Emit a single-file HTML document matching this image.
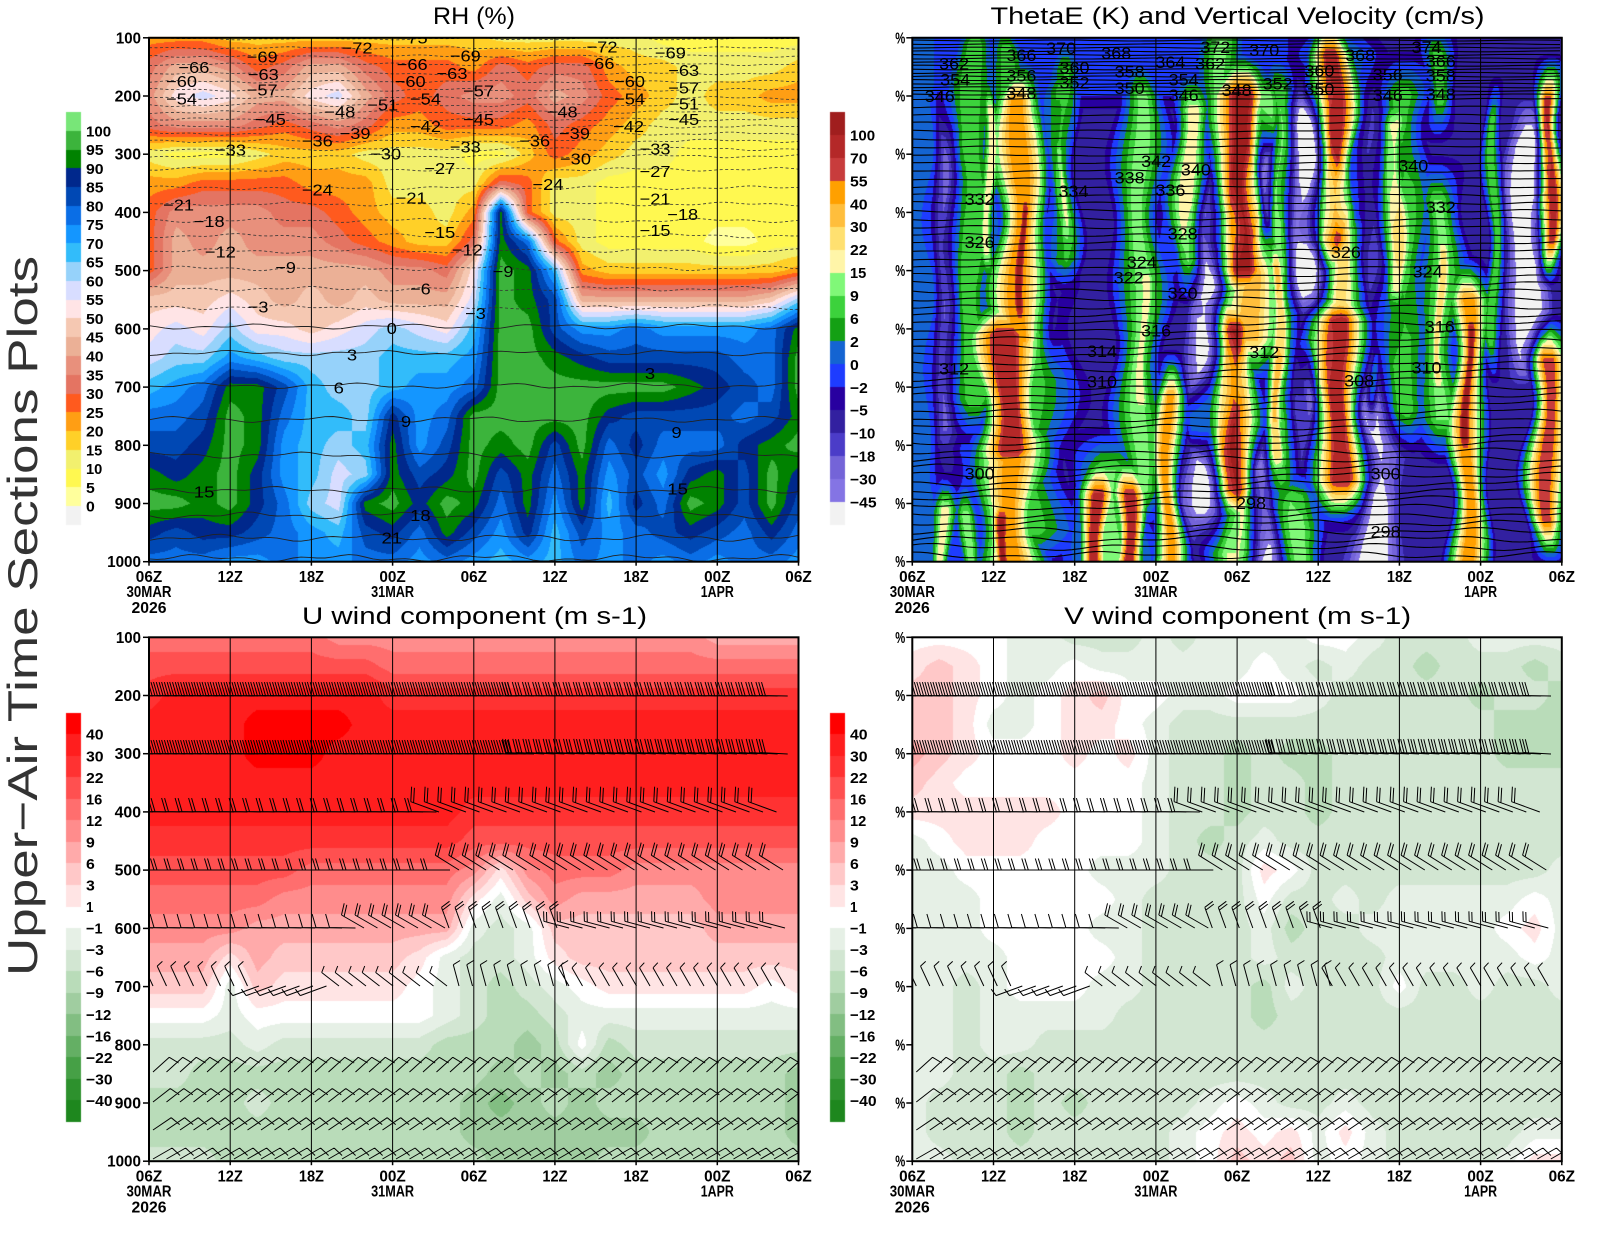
<!DOCTYPE html>
<html><head><meta charset="utf-8">
<style>
html,body{margin:0;padding:0;background:#fff;}
#w{position:relative;width:1600px;height:1236px;overflow:hidden;background:#fff;}
canvas,svg{position:absolute;left:0;top:0;}
text{font-family:"Liberation Sans",Arial,sans-serif;}
</style></head><body>
<div id="w">
<canvas id="cv" width="1600" height="1236"></canvas>
<svg id="sv" width="1600" height="1236" xmlns="http://www.w3.org/2000/svg">
<defs>
<clipPath id="k0"><rect x="149" y="37.8" width="649.5" height="523.9"/></clipPath>
<clipPath id="k1"><rect x="912.3" y="37.8" width="649.5" height="523.9"/></clipPath>
<clipPath id="k2"><rect x="149" y="637.3" width="649.5" height="523.9"/></clipPath>
<clipPath id="k3"><rect x="912.3" y="637.3" width="649.5" height="523.9"/></clipPath>
</defs>
<g id="dyn"></g>
<g fill="#000" font-size="24">
<text x="474" y="24" text-anchor="middle" textLength="82" lengthAdjust="spacingAndGlyphs">RH (%)</text>
<text x="1237.5" y="24" text-anchor="middle" textLength="494" lengthAdjust="spacingAndGlyphs">ThetaE (K) and Vertical Velocity (cm/s)</text>
<text x="474.5" y="624" text-anchor="middle" textLength="345" lengthAdjust="spacingAndGlyphs">U wind component (m s-1)</text>
<text x="1237.7" y="624" text-anchor="middle" textLength="347" lengthAdjust="spacingAndGlyphs">V wind component (m s-1)</text>
</g>
<text transform="translate(37,616) rotate(-90)" text-anchor="middle" font-size="42" fill="#333" textLength="720" lengthAdjust="spacingAndGlyphs">Upper−Air Time Sections Plots</text>
</svg>
</div>
<script>
(function(){
var K=1600/1568,W=649.5,H=523.9;
var PN=[[149,37.8],[912.3,37.8],[149,637.3],[912.3,637.3]];
function hx(c){return [parseInt(c.slice(1,3),16),parseInt(c.slice(3,5),16),parseInt(c.slice(5,7),16)];}
function rev(a){var r=[];for(var i=a.length-1;i>=0;i--)r.push(hx(a[i]));return r;}
var RHc=["#78e678","#3cb43c","#008200","#00288c","#0048b4","#0a6ee6","#1496ff","#32bcfa","#96d2fa","#d8ddff","#ffe4e6","#f5c8b2","#ebb096","#e8907c","#e47462","#ff5a1e","#ff9e14","#ffd028","#f2f06e","#fff850","#ffff9c","#f2f2f2"];
var TRc=["#a01e1e","#b42828","#c83c3c","#ffa000","#ffbe3c","#ffe070","#fff5a8","#80f878","#3cd23c","#14a014","#1464d2","#1e3cff","#2800a0","#3220a0","#4b3cc8","#7464d8","#8474e4","#f2f2f2"];
var Uc=["#ff0000","#ff1e1e","#ff3232","#ff5050","#ff6e6e","#ff8c8c","#ffaaaa","#ffc8c8","#ffe4e4","#ffffff","#e6f0e6","#d2e6d2","#b9dcb9","#a0cda0","#82be82","#64af64","#46a046","#2d912d","#1e871e"];
var RHP=rev(RHc),TRP=rev(TRc),UP=rev(Uc);
var RH=["55544 44444 44433 33332 22222","79986 79976 66576 77544 33334","8bcb9 9bc97 67887 98654 34455","78887 67875 56665 76543 33333","32223 44433 33224 65433 22222","55666 65553 33376 33222 22222","68888 77654 435j6 33222 22222","69898 88765 447jg 63222 21122","69999 99998 87bkj e5444 44445","aaaba 9a9a9 99ckj h9999 999ad","bcbdb babcd cbekk hffgf fffgj","cddfe dddde eefkk jihhh hhggk","efgjj hedde ffgkk kkkkk jihgk","gghkj geedi fgkkk kkihh hhghj","hhikj fedej fhkjk hkgig ggijk","jijki fecdj hikhj gjfhf ijhki","kkjki gdcjk ikjgj fjeig kjhkh","ihiih gfehi gjhfi ehfgh ihgig","gggff gffgg fgfef egfgf gfggf"];
var UG=["eeeee eeddd ddddd ddddd dcccc","fffff ffffe eeeee eeeee eeeee","ghhhh hhhhg ggggg ggggg ggggg","hhhhi iiihh hhhhh hhhhh hhhhh","hhhhi iihhh hhhhh hhhhh hhhhh","hhhhh hhhhh hhhhh hhhhh hhhhh","hhhhh hhhhh hhggg ggggg ggggg","ggggg ggggg ggfff fffff fffff","fffff feeee eedad eeedd ddddd","eeeee ddddd dda8b dcccc cdddd","ddddc ccccc cc878 bbbbb bcccc","cccac bbbbb a8778 abbbb bbbbb","bbb8b aaaaa 98767 89aaa aaa9a","99989 99999 98766 78888 88888","77778 77777 76665 69677 77777","77666 66666 66656 56566 66665","66667 66666 66545 65666 66665","66666 66666 66555 55556 66665","77766 66666 66655 55666 66666"];
var VG=["99998 87778 78888 99877 78888","aba98 89888 88898 78776 77767","bba98 9ab99 88999 87777 76776","bba88 9aa98 77777 77777 77666","cba99 9a9a8 77676 67777 77666","ba999 99998 77677 67777 77777","aaaaa a9998 77677 67777 77777","89aaa 99998 76787 77777 77777","88999 99888 777a9 77777 77778","88899 99987 77797 78788 88898","88899 99887 77786 77888 889a8","88889 99987 77787 77788 88898","88789 99887 77768 77797 78778","88788 88877 77767 77777 77777","88788 77777 77777 77777 77777","88776 77777 77777 77777 77777","87776 76777 78987 78777 77777","87776 77777 89a9a 8a877 77788","88777 77777 89bab 89877 778aa"];
function grid(rows){var g=[];for(var r=0;r<rows.length;r++){var s=rows[r].replace(/ /g,''),a=[];for(var c=0;c<s.length;c++)a.push(parseInt(s.charAt(c),36)+0.5);g.push(a);}return g;}
function gridFn(g,x0,y0){var nc=g[0].length-1,nr=g.length-1;return function(x,y){var gx=(x-x0)/W*nc,gy=(y-y0)/H*nr;var i=Math.floor(gx),j=Math.floor(gy);if(i<0)i=0;if(i>nc-1)i=nc-1;if(j<0)j=0;if(j>nr-1)j=nr-1;var fx=gx-i,fy=gy-j;if(fx<0)fx=0;if(fx>1)fx=1;if(fy<0)fy=0;if(fy>1)fy=1;return (g[j][i]*(1-fx)+g[j][i+1]*fx)*(1-fy)+(g[j+1][i]*(1-fx)+g[j+1][i+1]*fx)*fy;};}
var TF=[[921,24,38,561,7.2,2,1],[1100,195,38,90,6.5,20,1],[955,45,450,561,6.5,3,1],[1005,25,50,95,9.5],[1062,22,70,95,9.3],
[972,32,45,400,9.8],[989,11,110,250,11.8],[942,15,510,561,11.5],[968,13,515,561,10.5],[945,18,130,460,2.5],
[1020,36,100,340,14.5],[1022,11,210,310,17],[1008,42,335,450,16.8],[1012,44,440,561,14],[1005,15,520,561,17],[1025,58,300,530,9.5],
[1055,14,110,330,2.6],[1060,21,90,260,10.5],[1062,9,150,235,11.6],
[1097,21,495,561,16.5],[1128,21,495,561,16.5],[1110,52,470,561,10],
[1140,32,95,490,10.2],[1143,13,280,400,11.8],[1168,19,395,561,14],[1190,25,110,260,11.8],[1222,28,40,100,10],
[1211,26,215,505,-1.5],[1240,38,95,270,17.2],[1253,42,260,340,13.2],[1230,36,330,490,17.2],[1236,34,480,561,11],
[1263,11,115,225,0],[1262,17,470,561,0],[1281,21,90,480,10],[1278,14,265,455,13],
[1310,30,125,280,-2.5],[1308,13,362,398,0],[1310,28,100,480,2.3],[1300,30,495,561,10.5],
[1333,30,55,240,16.5],[1340,34,230,330,12.5],[1338,38,320,480,16.8],[1338,50,55,490,8.6],
[1375,26,415,561,-1],[1375,32,100,561,2.3],[1375,9,370,400,10],
[1395,23,125,290,12.5],[1400,40,95,410,9.8],[1440,30,200,420,10],[1440,13,250,380,12],[1437,20,55,100,9.5],
[1468,23,300,561,14.5],[1468,12,330,440,17],[1494,11,120,340,9.6],[1525,21,145,340,-1.5],
[1550,16,100,240,16],[1548,25,360,520,15.5],[1170,30,215,265,6.5]];
function trFn(x,y){var b=4.5,pos=0,neg=0;for(var i=0;i<TF.length;i++){var q=TF[i];var fixed=q[6];
var xc=fixed?q[0]:q[0]+3.5*Math.sin(y*0.035+q[0]*0.13);
var w=fixed?q[1]:q[1]*(1+0.22*Math.sin(y*0.047+q[0]*0.21));
var dx=Math.abs(x-xc);if(dx>=w)continue;
var L=fixed?25:48;var vy=1;
if(y<q[2]){vy=1-(q[2]-y)/L;}else if(y>q[3]){vy=1-(y-q[3])/L;}
if(vy<=0)continue;
var k=q[5]||1.2;var s=(1-dx/w)*k;if(s>1)s=1;s*=vy;var a=(q[4]-b)*s;if(a>0){if(a>pos)pos=a;}else{if(-a>neg)neg=-a;}}return b+pos-neg;}
var cv=document.getElementById('cv'),ctx=cv.getContext('2d');
var img=ctx.createImageData(1600,1236),D=img.data;
for(var i=0;i<D.length;i+=4){D[i]=255;D[i+1]=255;D[i+2]=255;D[i+3]=255;}
function fillP(x0,y0,fn,P){var xa=Math.floor(x0),xb=Math.ceil(x0+W),ya=Math.floor(y0),yb=Math.ceil(y0+H);for(var y=ya;y<yb;y++){for(var x=xa;x<xb;x++){var v=Math.floor(fn(x+0.5,y+0.5));if(v<0)v=0;if(v>=P.length)v=P.length-1;var c=P[v],o=(y*1600+x)*4;D[o]=c[0];D[o+1]=c[1];D[o+2]=c[2];}}}
fillP(PN[0][0],PN[0][1],gridFn(grid(RH),PN[0][0],PN[0][1]),RHP);
fillP(PN[1][0],PN[1][1],trFn,TRP);
fillP(PN[2][0],PN[2][1],gridFn(grid(UG),PN[2][0],PN[2][1]),UP);
fillP(PN[3][0],PN[3][1],gridFn(grid(VG),PN[3][0],PN[3][1]),UP);
ctx.putImageData(img,0,0);
function cbar(x,y0,bh,cols){for(var i=0;i<cols.length;i++){ctx.fillStyle=cols[i];ctx.fillRect(x,Math.round(y0+i*bh),15,Math.round(y0+(i+1)*bh)-Math.round(y0+i*bh));}}
cbar(66,112,18.77,RHc);cbar(830,112,22.94,TRc);cbar(66,712.7,21.54,Uc);cbar(830,712.7,21.54,Uc);
var o=[];
function f(v){return Math.round(v*10)/10;}
function wid(s){var w=0;for(var i=0;i<s.length;i++){var c=s.charAt(i);w+=(c=='1')?7.5:(c=='−'?9:8.8);}return w;}
function tx(x,y,s,b,a,sz,tl){o.push('<text x="'+f(x)+'" y="'+f(y)+'" font-size="'+sz+'"'+(b?' font-weight="bold"':'')+' text-anchor="'+a+'"'+(tl?' textLength="'+f(tl)+'" lengthAdjust="spacingAndGlyphs"':'')+'>'+s+'</text>');}
/* TL isotherms */
var TT=[[-75,38],[-72,47],[-69,55],[-66,63],[-63,72],[-60,80],[-57,88],[-54,96],[-51,103],[-48,110],[-45,117],[-42,124],[-39,131],[-36,138],[-33,146],[-30,153],[-27,166],[-24,184],[-21,200],[-18,216],[-15,231],[-12,246],[-9,263],[-6,283],[-3,301],[0,320],[3,346],[6,378],[9,411],[12,446],[15,480],[18,505],[21,527],[24,547]];
o.push('<g clip-path="url(#k0)" fill="none">');
for(var i=0;i<TT.length;i++){var t=TT[i][0],yb=TT[i][1]*K,am=1.2+(yb-38)/520*2.5,d='';for(var x=149;x<=806;x+=8){var y=yb+am*(0.6*Math.sin(x*0.043+t*0.37)+0.4*Math.sin(x*0.117+t*1.1));d+=(d?'L':'M')+f(x)+' '+f(y);}
o.push('<path d="'+d+'" '+(t<0?'stroke="#333" stroke-width="0.8" stroke-dasharray="3 2.5"':'stroke="#222" stroke-width="0.9"')+'/>');}
o.push('</g>');
/* TR theta-e lines */
o.push('<g clip-path="url(#k1)" fill="none" stroke="#000" stroke-width="1.1">');
for(var i=0;i<16;i++){var yb=40.5+i*3.6,d='';for(var x=912;x<=1570;x+=12){var y=yb+0.5*Math.sin(x*0.04+i*1.7);d+=(d?'L':'M')+f(x)+' '+f(y);}o.push('<path d="'+d+'"/>');}
for(var j=0;;j++){var yb=99+j*8;if(yb>562)break;var am=0.8+(yb-99)/460*2.8,d='';for(var x=912;x<=1570;x+=8){var y=yb+am*(0.6*Math.sin(x*0.028+j*1.3)+0.4*Math.sin(x*0.071+j*0.7));d+=(d?'L':'M')+f(x)+' '+f(y);}o.push('<path d="'+d+'"/>');}
o.push('</g>');
/* gridlines */
for(var k=0;k<4;k++){var p=PN[k];for(var i=1;i<8;i++){var gx=f(p[0]+i*W/8);o.push('<line x1="'+gx+'" y1="'+p[1]+'" x2="'+gx+'" y2="'+f(p[1]+H)+'" stroke="#000" stroke-width="1"/>');}}
/* barbs */
function barb(x,y,th,len,n,tl,sp){var r=th*Math.PI/180,dx=Math.cos(r),dy=Math.sin(r);var ex=x+dx*len,ey=y+dy*len;var tr=(th+73)*Math.PI/180,tdx=Math.cos(tr),tdy=Math.sin(tr);var d='M'+f(x)+' '+f(y)+'L'+f(ex)+' '+f(ey);for(var q=0;q<n;q++){var px=ex-dx*q*sp,py=ey-dy*q*sp;d+='M'+f(px)+' '+f(py)+'l'+f(tdx*tl)+' '+f(tdy*tl);}return d;}
var BR=[[58.7,[[4,385,8.1,181,28,3,14,2.8],[385,640,10.15,181,28,3,14,2.8]]],
[116.7,[[4,385,8.1,181,28,3,14,2.8],[385,640,10.15,183,28,3,14,2.8]]],
[174.7,[[4,290,13.5,181,28,2,14,3],[290,640,13.5,200,30,2,15,3]]],
[232.7,[[4,310,13.5,180,26,2,12,3],[310,640,13.5,212,28,2,13,3]]],
[290.7,[[4,215,13.5,181,26,1,14,3],[215,300,13.5,210,26,2,12,3],[300,420,13.5,250,22,2,10,3],[420,640,13.5,195,26,2,10,3]]],
[348.7,[[4,110,13.5,245,22,1,7,3],[110,190,13.5,160,28,1,8,3],[190,310,13.5,218,22,1,7,3],[310,420,13.5,255,22,1,8,3],[420,640,13.5,240,21,1,7,3]]],
[434.7,[[4,645,13.5,-42,22,1,11,3]]],[464.7,[[4,645,13.5,-38,22,1,11,3]]],[492.7,[[4,645,13.5,-34,22,1,11,3]]],[521.7,[[4,645,13.5,-30,22,1,11,3]]]];
for(var k=2;k<4;k++){var p=PN[k],d='';for(var r=0;r<BR.length;r++){var yy=p[1]+BR[r][0],sg=BR[r][1];for(var s=0;s<sg.length;s++){var g=sg[s];for(var xr=g[0];xr<g[1];xr+=g[2]){d+=barb(p[0]+xr,yy,g[3],g[4],g[5],g[6],g[7]);}}}
o.push('<path clip-path="url(#k'+k+')" d="'+d+'" fill="none" stroke="#000" stroke-width="1"/>');}
/* contour labels */
var TLL=[["−66",190,66],["−60",178,80],["−54",178,97],["−69",257,56],["−63",258,73],["−57",257,88],["−45",265,117],["−33",226,147],["−72",350,47],["−48",333,110],["−51",375,103],["−39",348,131],["−36",311,138],["−75",404,37],["−66",404,63],["−60",402,80],["−54",417,97],["−63",443,72],["−69",456,55],["−57",469,89],["−42",417,124],["−45",469,117],["−30",378,151],["−33",456,144],["−27",431,165],["−24",311,186],["−21",175,201],["−18",205,217],["−12",216,247],["−9",280,262],["−21",403,194],["−15",431,228],["−12",458,245],["−9",493,266],["−6",412,283],["−3",253,301],["−3",466,307],["0",384,322],["3",345,348],["6",332,380],["9",398,413],["15",200,482],["18",412,505],["21",384,527],["−72",590,46],["−66",587,62],["−60",617,80],["−54",617,97],["−48",551,110],["−39",563,131],["−36",524,138],["−30",564,156],["−24",537,181],["−42",616,124],["−69",657,52],["−63",670,69],["−57",670,86],["−51",670,102],["−45",670,117],["−33",642,146],["−27",642,168],["−21",642,195],["−18",669,210],["−15",642,226],["3",637,366],["9",663,424],["15",664,479]];
o.push('<g clip-path="url(#k0)" fill="#000">');
for(var i=0;i<TLL.length;i++){var q=TLL[i];tx(q[1]*K,q[2]*K+5.5,q[0],0,'middle',16,q[0].length*10.3);}
o.push('</g>');
var TRL=[["362",935,62],["354",936,78],["346",921,94],["366",1001,54],["356",1001,74],["348",1001,91],["370",1040,47],["360",1053,66],["352",1053,81],["368",1094,52],["358",1107,70],["350",1107,86],["364",1147,61],["354",1160,78],["346",1160,93],["372",1191,46],["362",1186,62],["370",1239,49],["348",1212,88],["352",1252,82],["360",1293,69],["350",1293,87],["368",1333,54],["356",1360,73],["346",1360,93],["374",1398,46],["366",1412,60],["358",1412,74],["348",1412,92],["342",1133,158],["340",1172,166],["338",1107,174],["336",1147,186],["334",1052,187],["332",960,195],["340",1385,162],["332",1412,203],["328",1159,229],["326",960,237],["326",1319,247],["324",1119,257],["322",1106,272],["324",1399,266],["320",1159,287],["316",1133,324],["316",1411,320],["314",1080,344],["312",1239,345],["310",1080,374],["310",1398,360],["312",935,361],["308",1332,373],["300",960,464],["300",1358,464],["298",1226,493],["298",1358,521]];
o.push('<g clip-path="url(#k1)" fill="#000">');
for(var i=0;i<TRL.length;i++){var q=TRL[i];tx(q[1]*K,q[2]*K+6,q[0],0,'middle',17,30);}
o.push('</g>');
/* frames, ticks, axis labels */
var XL=["06Z","12Z","18Z","00Z","06Z","12Z","18Z","00Z","06Z"];
for(var k=0;k<4;k++){var p=PN[k];
o.push('<rect x="'+p[0]+'" y="'+p[1]+'" width="'+W+'" height="'+H+'" fill="none" stroke="#000" stroke-width="2"/>');
for(var pr=100;pr<=1000;pr+=100){var y=p[1]+(pr-100)/900*H;o.push('<line x1="'+f(p[0]-6)+'" y1="'+f(y)+'" x2="'+p[0]+'" y2="'+f(y)+'" stroke="#000" stroke-width="1.5"/>');
if(k%2==0)tx(p[0]-8,y+5.5,String(pr),1,'end',16,wid(String(pr)));else tx(p[0]-7,y+5.5,'%',1,'end',16,10);}
for(var i=0;i<=8;i++){var x=p[0]+i*W/8;o.push('<line x1="'+f(x)+'" y1="'+f(p[1]+H)+'" x2="'+f(x)+'" y2="'+f(p[1]+H+4)+'" stroke="#000" stroke-width="1.5"/>');
tx(x,p[1]+H+20.5,XL[i],1,'middle',16,wid(XL[i]));}
var x0=p[0],dx=W/8;
tx(x0,p[1]+H+35.5,'30MAR',1,'middle',16,45);
tx(x0+3*dx,p[1]+H+35.5,'31MAR',1,'middle',16,43);
tx(x0+7*dx,p[1]+H+35.5,'1APR',1,'middle',16,33);
tx(x0,p[1]+H+51.5,'2026',1,'middle',16,35);}
/* colorbar labels */
function cbl(x,y0,bh,L){for(var i=0;i<L.length;i++)tx(x,y0+(i+1)*bh+5.5,L[i],1,'start',15,wid(L[i]));}
cbl(86,112,18.77,["100","95","90","85","80","75","70","65","60","55","50","45","40","35","30","25","20","15","10","5","0"]);
cbl(850,112,22.94,["100","70","55","40","30","22","15","9","6","2","0","−2","−5","−10","−18","−30","−45"]);
var UL=["40","30","22","16","12","9","6","3","1","−1","−3","−6","−9","−12","−16","−22","−30","−40"];
cbl(86,712.7,21.54,UL);cbl(850,712.7,21.54,UL);
document.getElementById('dyn').innerHTML=o.join('');
})();
</script>
</body></html>
